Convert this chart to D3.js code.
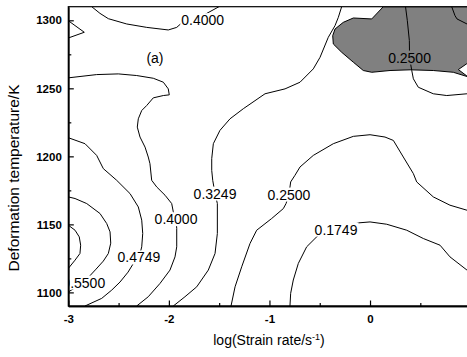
<!DOCTYPE html>
<html>
<head>
<meta charset="utf-8">
<script src="https://cdn.jsdelivr.net/npm/d3@7"></script>
<style>
  body { margin: 0; background: #fff; }
  svg { display: block; }
</style>
</head>
<body>
<div id="chart"></div>
<script>
// Axes
const xTicks = [-3, -2, -1, 0];
const xMinorTicks = [-2.5, -1.5, -0.5, 0.5];
const yTicks = [1100, 1150, 1200, 1250, 1300];
const yMinorTicks = [1125, 1175, 1225, 1275];

// Contour lines, points as [log strain rate, temperature K]
const line0400Top = [[-2.767, 1310], [-2.685, 1305.1], [-2.602, 1301.2], [-2.419, 1297.3], [-2.220, 1294.8],
  [-2.006, 1292.9], [-1.922, 1294.8], [-1.869, 1298.3], [-1.720, 1301.2], [-1.561, 1307.6], [-1.502, 1310]];
const line0400Spike = [[-3, 1299.7], [-2.841, 1291.2], [-3, 1287.0]];
const line0400 = [[-3, 1257.7], [-2.718, 1260.1], [-2.503, 1260.6], [-2.320, 1259.4], [-2.155, 1257.4],
  [-2.055, 1254.5], [-2.006, 1249.6], [-1.996, 1245.2], [-2.055, 1244.7], [-2.155, 1243.0], [-2.220, 1237.4],
  [-2.270, 1233.7], [-2.304, 1227.6], [-2.314, 1221.5], [-2.287, 1214.2], [-2.237, 1206.8], [-2.205, 1199.5],
  [-2.188, 1194.6], [-2.171, 1182.4], [-2.121, 1177.5], [-2.038, 1171.4], [-1.972, 1165.3], [-1.956, 1159.2],
  [-1.929, 1154.0], [-1.922, 1147.0], [-1.922, 1133.5], [-1.939, 1126.1], [-1.989, 1116.4], [-2.088, 1106.6],
  [-2.205, 1096.8], [-2.320, 1090]];
const line0475 = [[-3, 1213.7], [-2.834, 1209.3], [-2.718, 1200.7], [-2.652, 1191.0], [-2.519, 1182.4],
  [-2.386, 1172.6], [-2.304, 1162.8], [-2.270, 1153.1], [-2.260, 1143.3], [-2.270, 1133.5], [-2.295, 1126.0],
  [-2.357, 1120.8], [-2.406, 1114.9], [-2.486, 1107.6], [-2.568, 1101.7], [-2.668, 1095.6], [-2.834, 1090]];
const line0550 = [[-3, 1170.2], [-2.933, 1169.0], [-2.817, 1165.3], [-2.685, 1158.0], [-2.618, 1150.6],
  [-2.585, 1144.5], [-2.578, 1136.2], [-2.602, 1128.6], [-2.652, 1123.0], [-2.724, 1117.1], [-2.846, 1107.4],
  [-3, 1100.3]];
const lineInner = [[-3, 1149.4], [-2.933, 1145.7], [-2.891, 1140.8], [-2.877, 1134.7], [-2.884, 1128.6],
  [-2.933, 1123.7], [-3, 1117.6]];
const line0325 = [[-0.282, 1310], [-0.315, 1302.2], [-0.348, 1296.1], [-0.415, 1287.5], [-0.497, 1272.8],
  [-0.564, 1264.3], [-0.696, 1254.5], [-0.845, 1249.6], [-1.044, 1246.0], [-1.260, 1235.0], [-1.392, 1227.6],
  [-1.492, 1219.1], [-1.558, 1209.3], [-1.574, 1198.3], [-1.574, 1189.7], [-1.564, 1182.4], [-1.541, 1172.6],
  [-1.518, 1165.3], [-1.518, 1143.3], [-1.541, 1128.6], [-1.608, 1116.4], [-1.723, 1104.1], [-1.840, 1096.8],
  [-1.956, 1090]];
const line0250 = [[1.0, 1159.6], [0.964, 1160.4], [0.795, 1164.1], [0.629, 1170.2], [0.464, 1181.2],
  [0.431, 1187.3], [0.331, 1199.5], [0.232, 1211.7], [0.149, 1214.2], [0, 1215.9], [-0.166, 1214.7],
  [-0.365, 1209.3], [-0.564, 1200.7], [-0.696, 1192.2], [-0.746, 1186.1], [-0.789, 1181.2], [-0.806, 1171.9],
  [-0.835, 1165.3], [-0.862, 1161.6], [-0.978, 1154.3], [-1.127, 1145.7], [-1.193, 1136.0], [-1.276, 1118.8],
  [-1.342, 1104.1], [-1.382, 1090]];
const line0175 = [[-0.796, 1090], [-0.789, 1099.3], [-0.763, 1109.1], [-0.713, 1121.3], [-0.630, 1133.5],
  [-0.497, 1143.3], [-0.338, 1146.2], [-0.116, 1151.1], [0, 1151.8], [0.166, 1150.1], [0.365, 1145.7],
  [0.530, 1139.6], [0.696, 1134.7], [0.795, 1126.1], [0.964, 1116.4], [1.0, 1114.5]];
const line0250Top = [[0.353, 1310], [0.371, 1299.7], [0.391, 1285.1], [0.393, 1272.6], [0.415, 1263.1],
  [0.431, 1257.0], [0.480, 1250.8], [0.629, 1246.0], [0.763, 1244.7], [0.964, 1246.0], [1.0, 1246.3]];
const lineTopRight = [[0.812, 1310], [0.845, 1303.4], [0.865, 1301.0], [0.964, 1297.3], [1.0, 1296]];

const contourLines = [line0400Top, line0400Spike, line0400, line0475, line0550, lineInner,
  line0325, line0250, line0175, line0250Top, lineTopRight];

// Shaded (grey) domain and the small white notch on its right edge
const shadedRegion = [[0.132, 1310], [0.017, 1301.0], [-0.166, 1301.7], [-0.266, 1298.5], [-0.348, 1293.6],
  [-0.371, 1288.7], [-0.365, 1282.6], [-0.282, 1276.5], [-0.166, 1269.2], [-0.067, 1263.1], [0.017, 1261.8],
  [0.199, 1263.1], [0.398, 1263.6], [0.629, 1263.1], [0.828, 1261.8], [0.964, 1258.7], [1.0, 1258], [1.0, 1310]];
const shadedNotch = [[1.0, 1270], [0.964, 1268.2], [0.878, 1263.8], [0.964, 1259.0], [1.0, 1258.5]];

const contourLabels = [
  { text: '0.4000', x: -1.664, y: 1300.1 },
  { text: '0.2500', x: 0.393, y: 1272.6 },
  { text: '0.3249', x: -1.541, y: 1172.6 },
  { text: '0.2500', x: -0.806, y: 1171.9 },
  { text: '0.4000', x: -1.929, y: 1153.8 },
  { text: '0.1749', x: -0.338, y: 1146.2 },
  { text: '0.4749', x: -2.297, y: 1125.7 },
  { text: '0.5500', x: -2.846, y: 1107.2 },
];
const panelTag = { text: '(a)', x: -2.138, y: 1272.6 };

const CFG = {
  width: 467, height: 357,
  plot: { left: 68.3, top: 6.7, right: 470.6, bottom: 306 },
  font: 'Arial, "Liberation Sans", sans-serif',
  tickFont: '11.5px',
  labelFont: '14px',
  grey: '#808080',
};

const { width: W, height: H, plot: P, font } = CFG;

const svg = d3.select('#chart').append('svg')
  .attr('width', W).attr('height', H);

const x = d3.scaleLinear().domain([-3, 1]).range([P.left, P.right]);
const y = d3.scaleLinear().domain([1090, 1310]).range([P.bottom, P.top]);

const defs = svg.append('defs');
defs.append('clipPath').attr('id', 'plot-clip')
  .append('rect')
  .attr('x', P.left).attr('y', P.top)
  .attr('width', P.right - P.left).attr('height', P.bottom - P.top);

const plot = svg.append('g').attr('clip-path', 'url(#plot-clip)');
const line = d3.line().x(d => x(d[0])).y(d => y(d[1]));

// Grey region
plot.append('path').datum(shadedRegion)
  .attr('d', line.curve(d3.curveLinearClosed))
  .attr('fill', CFG.grey).attr('stroke', '#000').attr('stroke-width', 1);
line.curve(d3.curveLinear);
plot.append('path').datum(shadedNotch)
  .attr('d', line)
  .attr('fill', '#fff').attr('stroke', '#000').attr('stroke-width', 1);

// Labels first, so the gaps in the lines can be sized from them
const labelLayer = svg.append('g').attr('clip-path', 'url(#plot-clip)');
const labels = labelLayer.selectAll('text.cl').data(contourLabels).join('text')
  .attr('class', 'cl')
  .attr('x', d => x(d.x)).attr('y', d => y(d.y))
  .attr('dy', '0.36em')
  .attr('text-anchor', 'middle')
  .style('font-family', font).style('font-size', CFG.labelFont)
  .text(d => d.text);

labelLayer.append('text')
  .attr('x', x(panelTag.x)).attr('y', y(panelTag.y))
  .attr('dy', '0.36em')
  .attr('text-anchor', 'middle')
  .style('font-family', font).style('font-size', CFG.labelFont)
  .text(panelTag.text);

// Mask that cuts the contour lines around each label
const mask = defs.append('mask').attr('id', 'label-gaps')
  .attr('maskUnits', 'userSpaceOnUse')
  .attr('x', 0).attr('y', 0).attr('width', W).attr('height', H);
mask.append('rect').attr('width', W).attr('height', H).attr('fill', '#fff');
labels.each(function(d) {
  const tw = this.getComputedTextLength();
  mask.append('rect')
    .attr('x', x(d.x) - tw / 2 - 1).attr('y', y(d.y) - 7)
    .attr('width', tw + 2).attr('height', 14)
    .attr('fill', '#000');
});

plot.append('g').attr('mask', 'url(#label-gaps)')
  .selectAll('path').data(contourLines).join('path')
  .attr('d', line)
  .attr('fill', 'none').attr('stroke', '#000').attr('stroke-width', 1);

labelLayer.raise();

// Frame
svg.append('rect')
  .attr('x', P.left).attr('y', P.top)
  .attr('width', P.right - P.left).attr('height', P.bottom - P.top)
  .attr('fill', 'none').attr('stroke', '#000').attr('stroke-width', 1.2);

// Axes (ticks point inward)
const styleAxis = gg => {
  gg.select('.domain').attr('stroke-width', 1.3);
  gg.selectAll('line').attr('stroke-width', 1.2);
  gg.selectAll('text')
    .style('font-family', font).style('font-size', CFG.tickFont)
    .style('font-weight', 'bold').attr('fill', '#000');
};

svg.append('g').attr('transform', `translate(0,${P.bottom})`)
  .call(d3.axisBottom(x).tickValues(xTicks).tickSize(-5.5).tickSizeOuter(0).tickPadding(9)
    .tickFormat(d => String(d)))
  .call(styleAxis);
svg.append('g').attr('transform', `translate(0,${P.bottom})`)
  .call(d3.axisBottom(x).tickValues(xMinorTicks).tickSize(-3).tickSizeOuter(0).tickFormat(''))
  .call(styleAxis);

svg.append('g').attr('transform', `translate(${P.left},0)`)
  .call(d3.axisLeft(y).tickValues(yTicks).tickSize(-5.5).tickSizeOuter(0).tickPadding(6.5)
    .tickFormat(d3.format('d')))
  .call(styleAxis);
svg.append('g').attr('transform', `translate(${P.left},0)`)
  .call(d3.axisLeft(y).tickValues(yMinorTicks).tickSize(-3).tickSizeOuter(0).tickFormat(''))
  .call(styleAxis);

// Axis titles
const xTitle = svg.append('text')
  .attr('x', 269).attr('y', 345)
  .attr('text-anchor', 'middle')
  .style('font-family', font).style('font-size', '14px');
xTitle.append('tspan').text('log(Strain rate/s');
xTitle.append('tspan').attr('dy', -5).style('font-size', '9px').text('-1');
xTitle.append('tspan').attr('dy', 5).text(')');

svg.append('text')
  .attr('transform', 'translate(13,178) rotate(-90)')
  .attr('text-anchor', 'middle')
  .attr('dy', '0.36em')
  .style('font-family', font).style('font-size', '15.5px')
  .text('Deformation temperature/K');
</script>
</body>
</html>
